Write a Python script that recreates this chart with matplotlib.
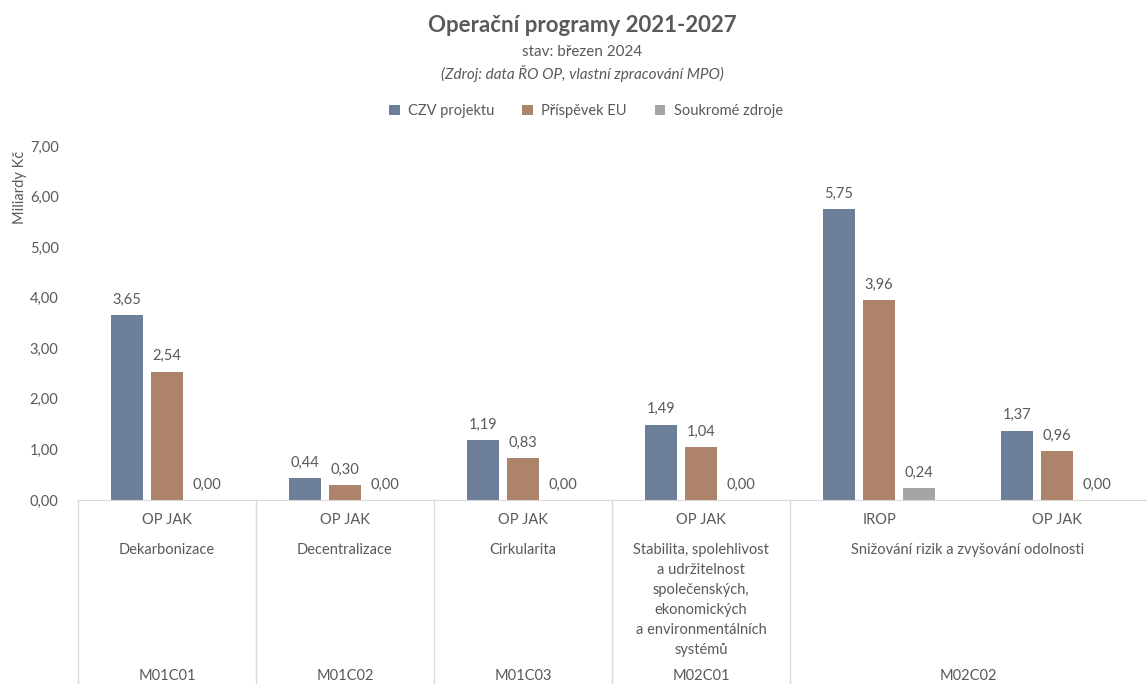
import matplotlib.pyplot as plt
import numpy as np
from matplotlib.transforms import blended_transform_factory

plt.rcParams['font.family'] = ['Lato', 'DejaVu Sans']

# === data ===
programs = ['OP JAK', 'OP JAK', 'OP JAK', 'OP JAK', 'IROP', 'OP JAK']
czv = [3.65, 0.44, 1.19, 1.49, 5.75, 1.37]
eu = [2.54, 0.30, 0.83, 1.04, 3.96, 0.96]
private = [0.00, 0.00, 0.00, 0.00, 0.24, 0.00]
series_names = ['CZV projektu', 'Příspěvek EU', 'Soukromé zdroje']
topics = ['Dekarbonizace', 'Decentralizace', 'Cirkularita',
          'Stabilita, spolehlivost\na udržitelnost\nspolečenských,\nekonomických\na environmentálních\nsystémů',
          'Snižování rizik a zvyšování odolnosti']
topic_span = [(0, 0), (1, 1), (2, 2), (3, 3), (4, 5)]
components = ['M01C01', 'M01C02', 'M01C03', 'M02C01', 'M02C02']
comp_span = [(0, 0), (1, 1), (2, 2), (3, 3), (4, 5)]

colors = ['#6d7e99', '#ad8469', '#a5a5a5']
txt = '#595959'
grid_c = '#d9d9d9'

fig = plt.figure(figsize=(11.47, 6.84), dpi=100)
ax = fig.add_axes([78 / 1147, 1 - 500 / 684, 1068 / 1147, 354 / 684])

x = np.arange(len(czv))
w = 0.175
off = 0.225
for vals, dx, c, name in zip([czv, eu, private], [-off, 0, off], colors, series_names):
    bars = ax.bar(x + dx, vals, w, color=c, label=name, zorder=2)
    for b, v in zip(bars, vals):
        ax.annotate(f'{v:.2f}'.replace('.', ','), (b.get_x() + b.get_width() / 2, v),
                    xytext=(0, 6), textcoords='offset points', ha='center', va='bottom',
                    fontsize=10.5, color=txt)

ax.set_xlim(-0.5, len(czv) - 0.5)
ax.set_ylim(0, 7)
ax.set_yticks(np.arange(0, 8, 1))
ax.set_yticklabels([f'{v:.2f}'.replace('.', ',') for v in np.arange(0, 8, 1)])
ax.tick_params(axis='y', length=0, pad=14, labelsize=10.5, labelcolor=txt)
ax.set_xticks([])
for s in ['left', 'right', 'top']:
    ax.spines[s].set_visible(False)
ax.spines['bottom'].set_color(grid_c)

# kategorie pod osou
tr = blended_transform_factory(ax.transData, ax.transAxes)
for b in np.arange(-0.5, 4.0, 1.0):
    ax.plot([b, b], [0, -0.55], transform=tr, color=grid_c, lw=1, clip_on=False)
for i, p in enumerate(programs):
    ax.text(i, -20 / 354, p, transform=tr, ha='center', va='center', fontsize=10.5, color=txt)
for t, (a, b) in zip(topics, topic_span):
    ax.text((a + b) / 2, -43 / 354, t, transform=tr, ha='center', va='top', fontsize=10.5,
            color=txt, linespacing=1.55)
for t, (a, b) in zip(components, comp_span):
    ax.text((a + b) / 2, -176 / 354, t, transform=tr, ha='center', va='center', fontsize=10.5,
            color=txt)

fig.text(20 / 1147, 1 - 187 / 684, 'Miliardy Kč', rotation=90, ha='center', va='center',
         fontsize=10.5, color=txt)

cx = 582 / 1147
fig.text(cx, 1 - 25 / 684, 'Operační programy 2021-2027', ha='center', va='center',
         fontsize=16, fontweight='bold', color=txt)
fig.text(cx, 1 - 52 / 684, 'stav: březen 2024', ha='center', va='center',
         fontsize=11, color=txt)
fig.text(cx, 1 - 73 / 684, '(Zdroj: data ŘO OP, vlastní zpracování MPO)', ha='center',
         va='center', fontsize=11, style='italic', color=txt)

leg = fig.legend(loc='center', bbox_to_anchor=(586 / 1147, 1 - 111 / 684), ncol=3,
                 frameon=False, handlelength=0.7, handleheight=0.7, columnspacing=1.9,
                 handletextpad=0.6, fontsize=10.5)
for t in leg.get_texts():
    t.set_color(txt)

fig.savefig('out.png', dpi=100)
